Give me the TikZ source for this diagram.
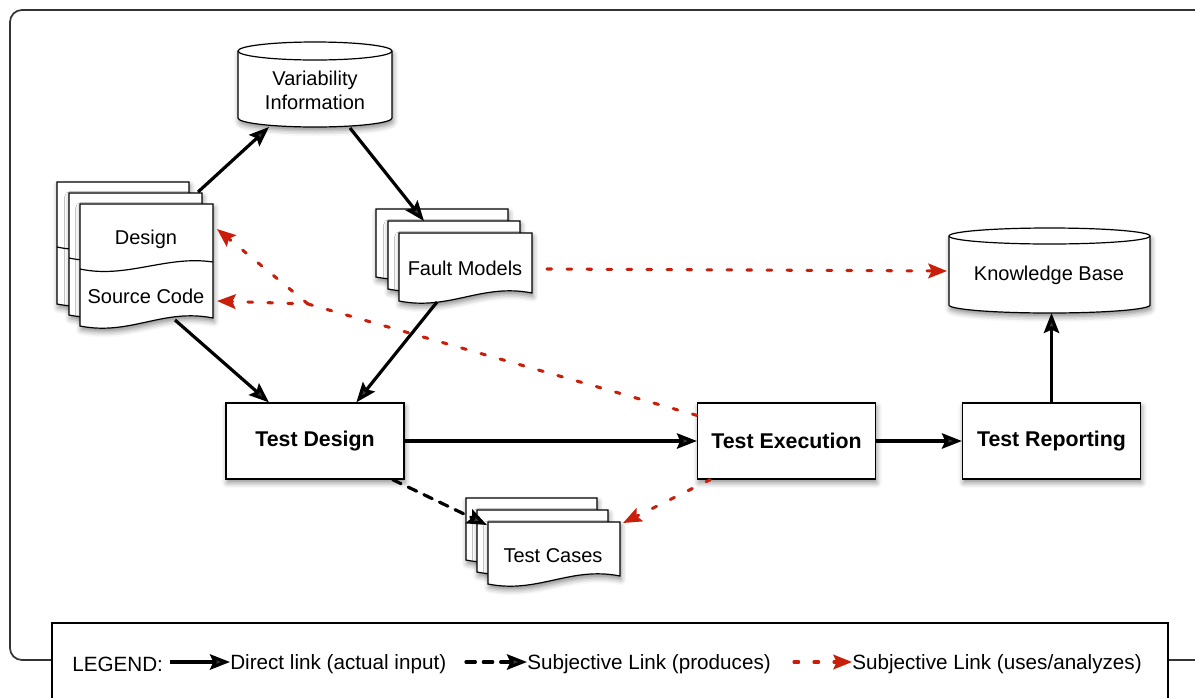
\documentclass[tikz,border=0pt]{standalone}
\usepackage{fontspec}
\setmainfont{Liberation Sans}
\usetikzlibrary{arrows.meta,shadows.blur}
\definecolor{linkred}{RGB}{200,30,10}

% one sheet of a document stack: x, y (top left), width, height (left edge)
\newcommand\docsheet[4]{%
  \path[sheet] (#1,#2) -- (#1+#3,#2) -- (#1+#3,#2+#4-8)
    .. controls (#1+0.62*#3,#2+#4-18) and (#1+0.38*#3,#2+#4+10) .. (#1,#2+#4) -- cycle;}
% wavy rule splitting a sheet into two sections
\newcommand\docdivider[3]{%
  \draw[divider] (#1,#2+65) .. controls (#1+0.35*#3,#2+75) and (#1+0.65*#3,#2+51) .. (#1+#3,#2+58);}

\begin{document}
\begin{tikzpicture}[x=0.75pt,y=-0.75pt,
  font=\fontsize{15}{18}\selectfont,
  shad/.style={blur shadow={shadow xshift=0.8pt,shadow yshift=-2.8pt,shadow blur radius=4pt,shadow opacity=45}},
  sheet/.style={draw=black,line width=0.9pt,fill=white,shad},
  divider/.style={draw=black,line width=0.9pt},
  cyl/.style={draw=black,line width=0.9pt,fill=white,shad},
  procbox/.style={draw=black,line width=0.9pt,fill=white,shad,minimum width=133.5pt,
    minimum height=57pt,inner sep=0pt,font=\fontsize{16}{19}\selectfont\bfseries},
  txt/.style={inner sep=0pt,align=center},
  legtxt/.style={anchor=west,inner sep=0pt,font=\fontsize{15.5}{18}\selectfont},
  arr/.style={line width=2.4pt,-{Stealth[length=15pt,width=11.5pt,inset=2.5pt]}},
  produces/.style={arr,line cap=round,dash pattern=on 7pt off 6pt},
  uses/.style={line width=2.3pt,draw=linkred,line cap=round,dash pattern=on 3.5pt off 11.5pt,
    -{Stealth[length=14pt,width=11pt,inset=2.5pt,fill=linkred]}},
]
\useasboundingbox (0,0) rectangle (1195,697);

% outer frame
\draw[line width=1.3pt,black!80,rounded corners=9pt] (1210,10) -- (10,10) -- (10,660) -- (60,660);
\draw[line width=1.3pt,black!80] (1160,660) -- (1210,660);

% Variability Information store
\path[cyl] (238,51) -- (238,118) arc[start angle=180,end angle=0,x radius=77,y radius=9]
  -- (392,51) arc[start angle=0,end angle=-180,x radius=77,y radius=9] -- cycle;
\draw[divider] (238,51) arc[start angle=180,end angle=0,x radius=77,y radius=9];
\node[txt] (vi) at (315,90) {Variability\\Information};

% Knowledge Base store
\path[cyl] (949,236) -- (949,305) arc[start angle=180,end angle=0,x radius=100.5,y radius=8]
  -- (1150,236) arc[start angle=0,end angle=-180,x radius=100.5,y radius=8] -- cycle;
\draw[divider] (949,236) arc[start angle=180,end angle=0,x radius=100.5,y radius=8];
\node[txt] (kb) at (1049,275) {Knowledge Base};

% Design / Source Code stack
\docsheet{57}{182}{132}{122}\docdivider{57}{182}{132}
\docsheet{69}{193}{133}{122}\docdivider{69}{193}{133}
\docsheet{80}{204}{133}{122}\docdivider{80}{204}{133}
\node[txt] (ds) at (146,239) {Design};
\node[txt] (sc) at (146,296) {Source Code};

% Fault Models stack
\docsheet{376}{209}{132}{68}
\docsheet{388}{221}{132}{68}
\docsheet{399}{233}{133}{68}
\node[txt] (fm) at (465,268) {Fault Models};

% Test Cases stack
\docsheet{466}{498}{131}{62}
\docsheet{477}{510}{131}{62}
\docsheet{488}{522}{132}{62}
\node[txt] (tc) at (553,556) {Test Cases};

% process steps
\node[procbox] (td) at (315,441) {Test Design};
\node[procbox] (te) at (786.5,441) {Test Execution};
\node[procbox] (tr) at (1051.5,441) {Test Reporting};

% connection points on the stores and stacks
\coordinate (dsTR) at (198,192);
\coordinate (viBL) at (269,127);
\coordinate (viBR) at (350,128);
\coordinate (fmTop) at (424,221);
\coordinate (scBot) at (175,320);
\coordinate (fmBot) at (437,302);
\coordinate (kbBot) at (1051.5,313);
\coordinate (tcTL) at (487,525);
\coordinate (tcTR) at (623,523);
\coordinate (fmR) at (547,269);
\coordinate (kbL) at (947,271);
\coordinate (jn) at (308,304);
\coordinate (scR) at (217,301);
\coordinate (dsR) at (217,229);

% direct links
\draw[arr] (dsTR) -- (viBL);
\draw[arr] (viBR) -- (fmTop);
\draw[arr] (scBot) -- ([xshift=-34.5pt]td.north);
\draw[arr] (fmBot) -- ([xshift=31pt]td.north);
\draw[arr] (td) -- (te);
\draw[arr] (te) -- (tr);
\draw[arr] (tr.north) -- (kbBot);

% produces
\draw[produces] ([xshift=-9pt]td.south east) -- (tcTL);

% uses / analyzes
\draw[uses] (fmR) -- (kbL);
\draw[uses] ([xshift=10pt]te.south west) -- (tcTR);
\draw[uses] ([yshift=-9.75pt]te.north west) -- (jn) -- (scR);
\draw[uses] (jn) -- (dsR);

% legend
\draw[line width=1.1pt,fill=white] (52,623) rectangle (1168,720);
\node[legtxt] (lgd) at (72,664) {LEGEND:};
\coordinate (l1s) at (170,662);
\node[legtxt] (l1) at (230,664) {Direct link (actual input)};
\draw[arr] (l1s) -- (l1s -| l1.west);
\coordinate (l2s) at (466,662);
\node[legtxt] (l2) at (527,664) {Subjective Link (produces)};
\draw[produces] (l2s) -- (l2s -| l2.west);
\coordinate (l3s) at (794,662);
\node[legtxt] (l3) at (852,664) {Subjective Link (uses/analyzes)};
\draw[uses] (l3s) -- (l3s -| l3.west);
\end{tikzpicture}
\end{document}
